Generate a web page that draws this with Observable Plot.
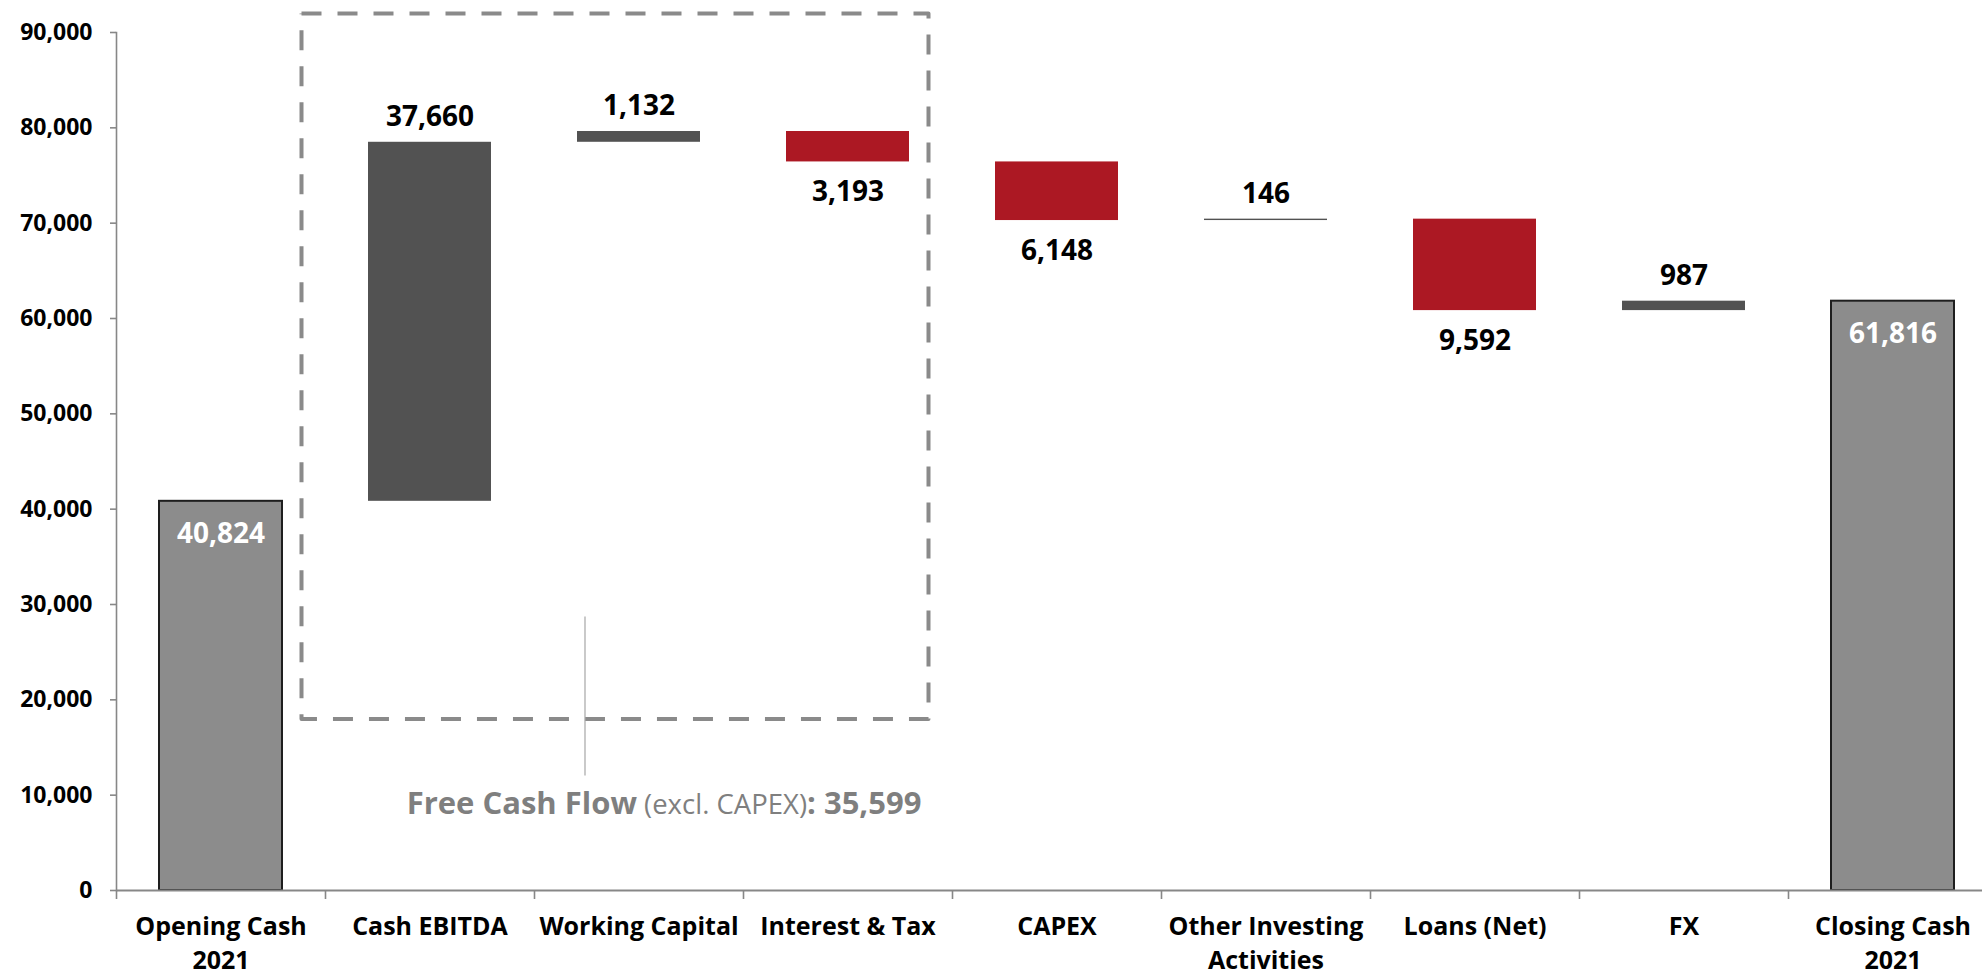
<!DOCTYPE html>
<html>
<head>
<meta charset="utf-8">
<script src="https://cdn.jsdelivr.net/npm/d3@7"></script>
<script src="https://cdn.jsdelivr.net/npm/@observablehq/plot@0.6"></script>
<style>
  html, body { margin: 0; padding: 0; background: #fff; overflow: hidden; }
  #chart svg { display: block; }
</style>
</head>
<body>
<div id="chart"></div>
<script>
// ---- Data ----
const categories = ["Opening Cash 2021", "Cash EBITDA", "Working Capital", "Interest & Tax", "CAPEX", "Other Investing Activities", "Loans (Net)", "FX", "Closing Cash 2021"];
const tickLabels = ["Opening Cash\n2021", "Cash EBITDA", "Working Capital", "Interest & Tax", "CAPEX", "Other Investing\nActivities", "Loans (Net)", "FX", "Closing Cash\n2021"];
const values = [40824, 37660, 1132, -3193, -6148, 146, -9592, 987, 61816];
const kinds = ["total", "delta", "delta", "delta", "delta", "delta", "delta", "delta", "total"];
const yTicks = [0, 10000, 20000, 30000, 40000, 50000, 60000, 70000, 80000, 90000];

// Free cash flow annotation (box spans Cash EBITDA .. Interest & Tax)
const fcfBoxCategories = ["Opening Cash 2021", "Interest & Tax"];
const fcfBoxRange = [18000, 92000];
const fcfLabelParts = ["Free Cash Flow", " (excl. CAPEX)", ": 35,599"];
const fcfConnector = [12000, 28700];
const fcfLabelY = 8000;

// ---- Derived table ----
let run = 0;
const rows = categories.map((c, i) => {
  const v = values[i];
  let y1, y2;
  if (kinds[i] === "total") { y1 = 0; y2 = v; run = v; }
  else { y1 = run; y2 = run + v; run = y2; }
  return {cat: c, value: v, kind: kinds[i], y1, y2, lo: Math.min(y1, y2), hi: Math.max(y1, y2), label: d3.format(",")(Math.abs(v))};
});
const totals = rows.filter(d => d.kind === "total");
const ups = rows.filter(d => d.kind === "delta" && d.value >= 0);
const downs = rows.filter(d => d.kind === "delta" && d.value < 0);
const labelOf = new Map(categories.map((c, i) => [c, tickLabels[i]]));

const boxPts = [
  {x: fcfBoxCategories[0], y: fcfBoxRange[1]},
  {x: fcfBoxCategories[1], y: fcfBoxRange[1]},
  {x: fcfBoxCategories[1], y: fcfBoxRange[0]},
  {x: fcfBoxCategories[0], y: fcfBoxRange[0]},
  {x: fcfBoxCategories[0], y: fcfBoxRange[1]}
];
const fcfText = fcfLabelParts.join("");

const W = 1982, H = 976;
const axisGray = "#878787";
const font = "'Open Sans', 'Liberation Sans', sans-serif";

const chart = Plot.plot({
  width: W,
  height: H,
  marginLeft: 116,
  marginRight: 0,
  marginTop: 32,
  marginBottom: 86,
  style: {fontFamily: font, background: "white", color: "black", overflow: "visible"},
  x: {domain: categories, range: [116, 1997], paddingInner: 0.41, paddingOuter: 0.205, axis: null},
  y: {domain: [0, 90000], axis: null},
  marks: [
    // dashed FCF box
    Plot.line(boxPts, {x: "x", y: "y", dx: 80.5, stroke: "#8a8a8a", strokeWidth: 4, strokeDasharray: "20,16", strokeLinecap: "butt"}),
    Plot.ruleX([fcfConnector], {x: () => "Working Capital", y1: d => d[0], y2: d => d[1], dx: -54, stroke: "#a6a6a6", strokeWidth: 1.2}),
    Plot.text([fcfText], {x: () => "Working Capital", y: () => fcfLabelY, text: d => d, dx: 25, lineAnchor: "bottom", fill: "#7f7f7f", fontSize: 31, fontWeight: "bold"}),

    // bars
    Plot.barY(totals, {x: "cat", y1: "y1", y2: "y2", fill: "#8c8c8c", stroke: "#1e1e1e", strokeWidth: 2}),
    Plot.barY(ups, {x: "cat", y1: "y1", y2: "y2", fill: "#525252"}),
    Plot.barY(downs, {x: "cat", y1: "y1", y2: "y2", fill: "#ac1823"}),

    // value labels
    Plot.text(totals, {x: "cat", y: "hi", text: "label", dy: 42, lineAnchor: "bottom", fill: "white", fontSize: 28, fontWeight: "bold"}),
    Plot.text(ups, {x: "cat", y: "hi", text: "label", dy: -16, lineAnchor: "bottom", fill: "black", fontSize: 28, fontWeight: "bold"}),
    Plot.text(downs, {x: "cat", y: "lo", text: "label", dy: 39, lineAnchor: "bottom", fill: "black", fontSize: 28, fontWeight: "bold"}),

    // axes
    Plot.frame({anchor: "left", stroke: axisGray, strokeWidth: 1.6}),
    Plot.ruleY([0], {stroke: axisGray, strokeWidth: 2}),
    Plot.axisY({ticks: yTicks, tickSize: 6, tickPadding: 18, tickFormat: d3.format(","), stroke: axisGray, fill: "black", fontSize: 23, fontWeight: "bold", strokeWidth: 1.6}),
    Plot.axisX({tickSize: 9, tickFormat: () => "", dx: -104.5, stroke: axisGray, strokeWidth: 1.6}),
    Plot.axisX({tickSize: 0, tickPadding: 20, tickFormat: d => labelOf.get(d), fill: "black", fontSize: 25, fontWeight: "bold", lineHeight: 1.36})
  ]
});

// mixed-style annotation label
chart.querySelectorAll("text").forEach(t => {
  if (t.textContent === fcfText) {
    while (t.firstChild) t.removeChild(t.firstChild);
    const styles = [{w: "bold", s: 31}, {w: "normal", s: 27.5}, {w: "bold", s: 31}];
    fcfLabelParts.forEach((p, i) => {
      const ts = document.createElementNS("http://www.w3.org/2000/svg", "tspan");
      ts.textContent = p;
      ts.setAttribute("font-weight", styles[i].w);
      ts.setAttribute("font-size", styles[i].s);
      t.appendChild(ts);
    });
    t.setAttribute("xml:space", "preserve");
    t.style.whiteSpace = "pre";
  }
});

document.getElementById("chart").appendChild(chart);
</script>
</body>
</html>
